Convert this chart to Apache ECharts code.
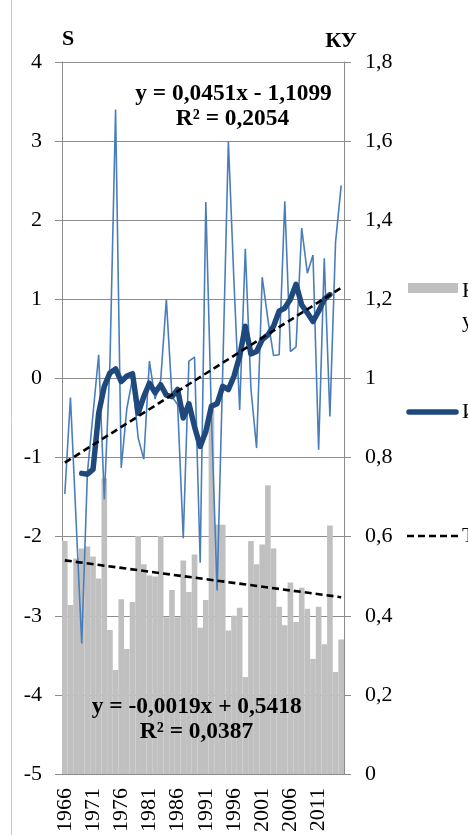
<!DOCTYPE html>
<html><head><meta charset="utf-8">
<script src="https://cdn.jsdelivr.net/npm/echarts@6/dist/echarts.min.js"></script>
<style>html,body{margin:0;padding:0;background:#fff;}#c{width:468px;height:835px;}</style>
</head><body><div id="c"></div>
<script>
const years = ['1966','1967','1968','1969','1970','1971','1972','1973','1974','1975',
  '1976','1977','1978','1979','1980','1981','1982','1983','1984','1985',
  '1986','1987','1988','1989','1990','1991','1992','1993','1994','1995',
  '1996','1997','1998','1999','2000','2001','2002','2003','2004','2005',
  '2006','2007','2008','2009','2010','2011','2012','2013','2014','2015'];

// КУ (right axis) – bars
const ku = [0.589,0.427,0.545,0.570,0.575,0.550,0.494,0.747,0.364,0.263,
  0.442,0.316,0.435,0.602,0.530,0.502,0.499,0.602,0.396,0.465,
  0.396,0.540,0.460,0.555,0.370,0.440,0.920,0.631,0.630,0.363,
  0.400,0.420,0.245,0.589,0.530,0.580,0.730,0.570,0.423,0.376,
  0.484,0.384,0.471,0.418,0.291,0.423,0.328,0.628,0.258,0.340];

// S (left axis) – thin line
const s = [-1.46,-0.24,-1.80,-3.35,-1.20,-0.45,0.30,-1.53,0.20,3.40,
  -1.13,-0.38,0.00,-0.75,-1.02,0.22,-0.26,-0.02,1.00,-0.23,
  -0.33,-2.02,0.22,0.27,-2.33,2.23,-0.50,-2.68,0.10,3.00,
  1.20,-0.40,1.64,-0.13,-0.88,1.28,0.75,0.29,0.30,2.24,
  0.34,0.40,1.90,1.33,1.56,-0.90,1.52,-0.48,1.72,2.44];

// S moving average – thick line
const sAvg = [null,null,null,-1.20,-1.21,-1.15,-0.44,-0.10,0.07,0.12,
  -0.04,0.03,0.06,-0.44,-0.23,-0.06,-0.18,-0.08,-0.21,-0.23,
  -0.14,-0.50,-0.32,-0.61,-0.86,-0.67,-0.35,-0.32,-0.10,-0.14,
  0.03,0.28,0.66,0.31,0.34,0.49,0.55,0.66,0.85,0.89,
  1.00,1.19,0.93,0.83,0.72,0.85,1.00,1.06,null,null];

// linear trend end values (first and last year)
const sTrendEnds = [-1.065, 1.145];
const kuTrendEnds = [0.540, 0.447];

const rightTicks = ['0','0,2','0,4','0,6','0,8','1','1,2','1,4','1,6','1,8'];
const eqTop = ['y = 0,0451x - 1,1099', 'R² = 0,2054'];
const eqBottom = ['y = -0,0019x + 0,5418', 'R² = 0,0387'];
const legendNames = ['Коэффициент\nувлажнения', 'Индекс S', 'Тренд'];

function ends(e){ const a = years.map(()=>null); a[0]=e[0]; a[a.length-1]=e[1]; return a; }

const FF = 'Liberation Serif';
const GRID = '#8c8c8c';
const EQF = 'bold 23.4px "Liberation Serif"';
const chart = echarts.init(document.getElementById('c'));
chart.setOption({
  animation:false,
  backgroundColor:'#fff',
  grid:{left:62, right:124, top:62, bottom:60},
  xAxis:{type:'category', data:years, boundaryGap:true,
    axisLine:{lineStyle:{color:GRID,width:1}}, axisTick:{show:false},
    axisLabel:{interval:4, rotate:90, margin:14, fontSize:22, fontFamily:FF, color:'#000'}},
  yAxis:[
    {type:'value', min:-5, max:4, interval:1, position:'left',
     axisLine:{show:true, lineStyle:{color:GRID}}, axisTick:{show:true, length:7, lineStyle:{color:GRID}},
     splitLine:{show:true, lineStyle:{color:GRID, width:1}},
     axisLabel:{margin:20, fontSize:22, fontFamily:FF, color:'#000'}},
    {type:'value', min:0, max:1.8, interval:0.2, position:'right',
     axisLine:{show:true, lineStyle:{color:GRID}}, axisTick:{show:true, length:7, lineStyle:{color:GRID}},
     splitLine:{show:false},
     axisLabel:{margin:21, fontSize:22, fontFamily:FF, color:'#000',
       formatter:(v)=>rightTicks[Math.round(v/0.2)]}}
  ],
  series:[
    {name:legendNames[0], type:'bar', yAxisIndex:1, data:ku, barCategoryGap:'0%',
     itemStyle:{color:'#c0c0c0'}, z:1},
    {name:'S', type:'line', yAxisIndex:0, data:s, symbol:'none',
     lineStyle:{color:'#4a7ebb', width:1.6}, z:3},
    {name:legendNames[1], type:'line', yAxisIndex:0, data:sAvg, symbol:'none',
     lineStyle:{color:'#1f497d', width:5.5, cap:'round', join:'round'}, z:4},
    {name:legendNames[2], type:'line', yAxisIndex:0, data:ends(sTrendEnds), connectNulls:true, symbol:'none',
     lineStyle:{color:'#000', width:2.6, type:[7,4]}, z:5},
    {name:legendNames[2], type:'line', yAxisIndex:1, data:ends(kuTrendEnds), connectNulls:true, symbol:'none',
     lineStyle:{color:'#000', width:2.6, type:[7,4]}, z:5}
  ],
  graphic:[
    {type:'line', shape:{x1:11.5,y1:0,x2:11.5,y2:835}, style:{stroke:'#c8c8c8', lineWidth:1}, silent:true},
    {type:'text', left:62, top:28, style:{text:'S', font:'bold 22px "Liberation Serif"', fill:'#000'}},
    {type:'text', right:111, top:30, style:{text:'КУ', font:'bold 22px "Liberation Serif"', fill:'#000'}},
    {type:'text', x:233.5, y:94, style:{text:eqTop[0], font:EQF, fill:'#000', textAlign:'center', textVerticalAlign:'middle'}, z:10},
    {type:'text', x:232.5, y:119, style:{text:eqTop[1], font:EQF, fill:'#000', textAlign:'center', textVerticalAlign:'middle'}, z:10},
    {type:'text', x:196.7, y:707, style:{text:eqBottom[0], font:EQF, fill:'#000', textAlign:'center', textVerticalAlign:'middle'}, z:10},
    {type:'text', x:196.5, y:732, style:{text:eqBottom[1], font:EQF, fill:'#000', textAlign:'center', textVerticalAlign:'middle'}, z:10},
    // legend
    {type:'rect', shape:{x:408,y:283,width:50,height:10}, style:{fill:'#c0c0c0'}},
    {type:'text', x:462, y:276, style:{text:legendNames[0], font:'22px "Liberation Serif"', fill:'#000', lineHeight:30}},
    {type:'line', shape:{x1:409,y1:412,x2:456,y2:412}, style:{stroke:'#1f497d', lineWidth:5.5, lineCap:'round'}},
    {type:'text', x:462, y:412, style:{text:legendNames[1], font:'22px "Liberation Serif"', fill:'#000', textVerticalAlign:'middle'}},
    {type:'line', shape:{x1:407,y1:536,x2:458,y2:536}, style:{stroke:'#000', lineWidth:2.6, lineDash:[7,4]}},
    {type:'text', x:462, y:536, style:{text:legendNames[2], font:'22px "Liberation Serif"', fill:'#000', textVerticalAlign:'middle'}}
  ]
});
</script></body></html>
